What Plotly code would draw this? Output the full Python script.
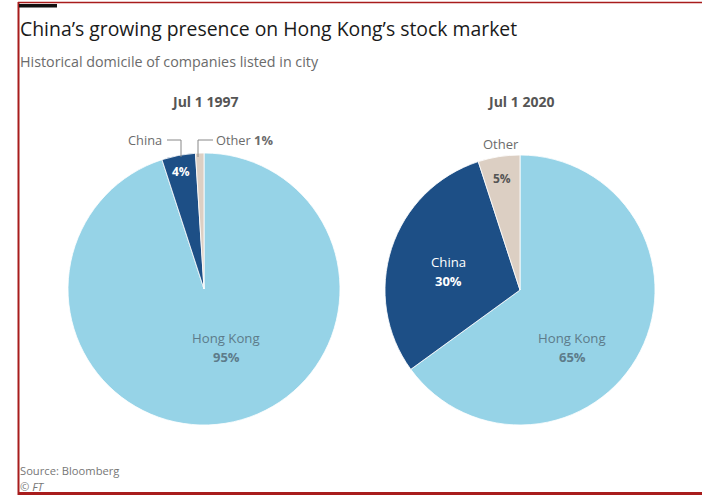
import plotly.graph_objects as go

W, H = 702, 499

segments = ["Hong Kong", "China", "Other"]
values_1997 = [95, 4, 1]
values_2020 = [65, 30, 5]
years = ["Jul 1 1997", "Jul 1 2020"]
colors = ["#96d3e7", "#1d4f86", "#dccfc3"]

def px(x):
    return x / W

def py(y):
    return 1 - y / H

fig = go.Figure()

pie_specs = [
    (values_1997, (204, 289), 136),
    (values_2020, (520, 290), 135),
]
for vals, (cx, cy), r in pie_specs:
    fig.add_trace(go.Pie(
        labels=segments, values=vals, sort=False, direction="clockwise", rotation=0,
        marker=dict(colors=colors, line=dict(color="white", width=0.8)),
        textinfo="none", hoverinfo="label+percent", showlegend=False,
        domain=dict(x=[px(cx - r), px(cx + r)], y=[py(cy + r), py(cy - r)]),
    ))

FONT = "Open Sans"
ann = []
def add(x, y, text, size=12, color="#555", bold=False, anchor="center", italic=False):
    t = text
    if bold:
        t = "<b>" + t + "</b>"
    if italic:
        t = "<i>" + t + "</i>"
    ann.append(dict(x=px(x), y=py(y), xref="paper", yref="paper", text=t, showarrow=False,
                    xanchor=anchor, yanchor="middle", font=dict(family=FONT, size=size, color=color)))

# titles
add(18, 28, "China’s growing presence on Hong Kong’s stock market", size=19.4, color="#1a1a1a", anchor="left")
add(18, 61, "Historical domicile of companies listed in city", size=14.3, color="#6b6b6b", anchor="left")
add(204, 102, years[0], size=14, color="#555", bold=True)
add(520, 102, years[1], size=14, color="#555", bold=True)

# pie 1 labels
add(145, 140, segments[1], size=12.8, color="#6b6b6b")
add(244, 140, segments[2] + " <b>%d%%</b>" % values_1997[2], size=12.8, color="#6b6b6b")
add(181, 171, "%d%%" % values_1997[1], size=12, color="white", bold=True)
add(226, 338, segments[0], size=13.2, color="#5d7b8a")
add(226, 357, "%d%%" % values_1997[0], size=13, color="#5d7b8a", bold=True)

# pie 2 labels
add(501, 144, segments[2], size=13, color="#6b6b6b")
add(502, 178, "%d%%" % values_2020[2], size=12, color="#555", bold=True)
add(448, 262, segments[1], size=13.2, color="white")
add(448, 281, "%d%%" % values_2020[1], size=13, color="white", bold=True)
add(572, 338, segments[0], size=13.2, color="#5d7b8a")
add(572, 357, "%d%%" % values_2020[0], size=13, color="#5d7b8a", bold=True)

# source
add(18, 470, "Source: Bloomberg", size=11.2, color="#777", anchor="left")
add(18, 486, "© FT", size=11.2, color="#777", anchor="left", italic=True)

shapes = []
def line(x0, y0, x1, y1, color="#888", width=1):
    shapes.append(dict(type="line", xref="paper", yref="paper", x0=px(x0), y0=py(y0), x1=px(x1), y1=py(y1),
                       line=dict(color=color, width=width)))

# leader lines
line(167, 140, 181, 140)
line(181, 140, 181, 157)
line(213, 140, 198, 140)
line(198, 140, 198, 157)

# frame
line(18.5, 2, 18.5, 495, color="#a81c1c", width=2)
line(18, 2.5, 720, 2.5, color="#a81c1c", width=1.5)
line(18, 493.5, 720, 493.5, color="#a81c1c", width=3)
shapes.append(dict(type="rect", xref="paper", yref="paper", x0=px(19), x1=px(57), y0=py(7.5), y1=py(4),
                   fillcolor="#111", line=dict(width=0)))

fig.update_layout(
    width=W, height=H, margin=dict(l=0, r=0, t=0, b=0),
    paper_bgcolor="white", plot_bgcolor="white",
    annotations=ann, shapes=shapes,
)

fig.write_html(
    "out.html",
    config={"displayModeBar": False},
    post_script="document.body.style.margin='0';document.body.style.padding='0';document.body.style.overflow='hidden';",
)
